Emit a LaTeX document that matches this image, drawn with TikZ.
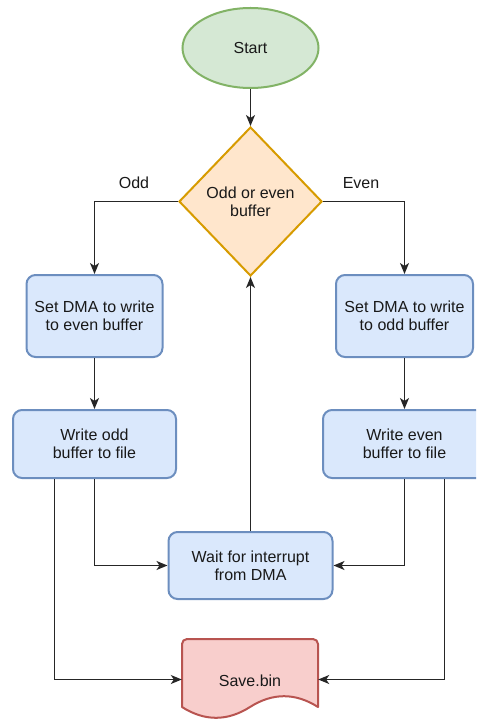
\documentclass[tikz,border=0pt]{standalone}
\usepackage{fontspec}
\setmainfont{Liberation Sans}
\usetikzlibrary{shapes.geometric,arrows.meta}
\definecolor{greenfill}{HTML}{D5E8D4}
\definecolor{greenline}{HTML}{82B366}
\definecolor{orangefill}{HTML}{FFE6CC}
\definecolor{orangeline}{HTML}{D79B00}
\definecolor{bluefill}{HTML}{DAE8FC}
\definecolor{blueline}{HTML}{6C8EBF}
\definecolor{redfill}{HTML}{F8CECC}
\definecolor{redline}{HTML}{B85450}
\tikzset{
  txt/.style={font=\fontsize{16}{18}\selectfont, align=center, text=black!90},
  terminal/.style={txt, ellipse, draw=greenline, fill=greenfill, line width=2pt,
    minimum width=136pt, minimum height=80pt, inner sep=0pt},
  decision/.style={txt, diamond, draw=orangeline, fill=orangefill, line width=2pt,
    minimum width=143pt, minimum height=149pt, aspect=0.96, inner sep=0pt},
  process/.style={txt, rectangle, rounded corners=9pt, draw=blueline, fill=bluefill,
    line width=2pt, inner sep=0pt},
  flow/.style={line width=1.3pt, black!85, -{Stealth[length=11pt,width=9pt,inset=3pt]}},
  lbl/.style={txt, inner sep=0pt},
}
\begin{document}
\begin{tikzpicture}[x=1pt,y=-1pt]
\useasboundingbox (0,0) rectangle (476,719);
\clip (0,0) rectangle (476,719);

% shapes
\node[terminal] (start) at (250.5,48) {Start};
\node[decision] (choice) at (250.5,201.5) {Odd or even\\buffer};
\node[process, minimum width=136pt, minimum height=82pt] (setL) at (94.5,316) {Set DMA to write\\to even buffer};
\node[process, minimum width=137pt, minimum height=82pt] (setR) at (404.5,316) {Set DMA to write\\to odd buffer};
\node[process, minimum width=163pt, minimum height=68pt] (writeL) at (94.5,444) {Write odd\\buffer to file};
\node[process, minimum width=163pt, minimum height=68pt] (writeR) at (404.5,444) {Write even\\buffer to file};
\node[process, minimum width=164pt, minimum height=67pt] (wait) at (250.5,565.5) {Wait for interrupt\\from DMA};

% document shape for the output file
\node[minimum width=136pt, minimum height=81pt, inner sep=0pt] (save) at (250,679.5) {};
\draw[draw=redline, fill=redfill, line width=2pt, line join=round]
  [rounded corners=5pt] (182,707) -- (182,639) -- (318,639) [sharp corners] -- (318,707)
  .. controls (295.33,692.6) and (272.67,692.6) .. (250,707)
  .. controls (227.33,721.4) and (204.67,721.4) .. (182,707) -- cycle;
\node[txt] (savetxt) at (250,681) {Save.bin};

% branch labels
\node[lbl] (oddlbl) at (134,183) {Odd};
\node[lbl] (evenlbl) at (361,183) {Even};

% connectors
\draw[flow] (start) -- (choice.north);
\draw[flow] (choice.west) -| (setL.north);
\draw[flow] (choice.east) -| (setR.north);
\draw[flow] (setL) -- (writeL);
\draw[flow] (setR) -- (writeR);
\draw[flow] (writeL.south) |- (wait.west);
\draw[flow] (writeL.south -| 54.5,0) |- (save.west);
\draw[flow] (writeR.south) |- (wait.east);
\draw[flow] (writeR.south -| 444.5,0) |- (save.east);
\draw[flow] (wait.north) -- (choice.south);
\end{tikzpicture}
\end{document}
